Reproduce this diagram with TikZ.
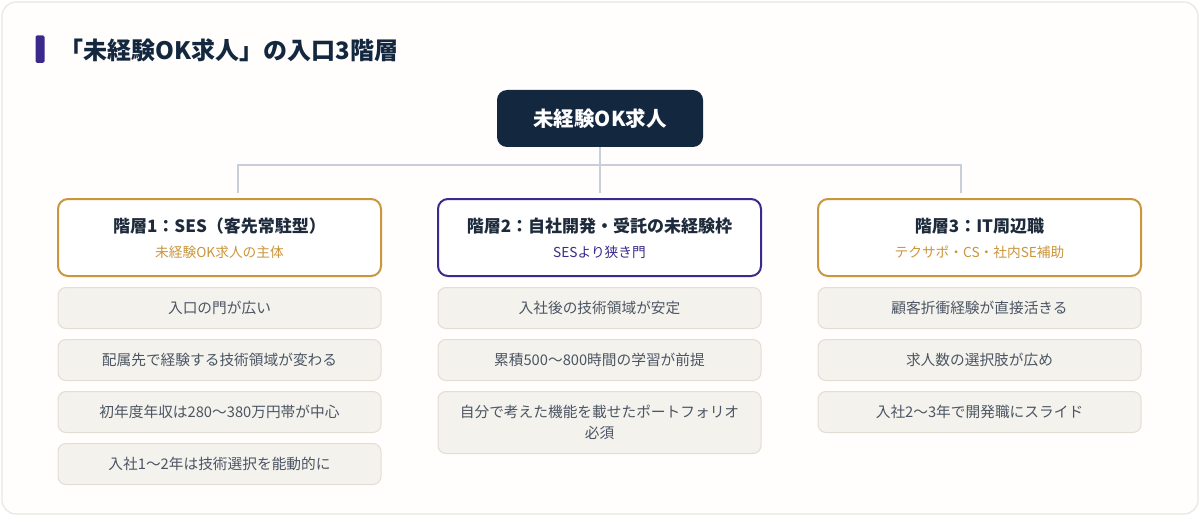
\documentclass[tikz,border=0pt]{standalone}
\usepackage{fontspec}
\setmainfont{Noto Sans CJK JP}
\usetikzlibrary{positioning}
\definecolor{navy}{HTML}{13273F}
\definecolor{ink}{HTML}{1E2B3C}
\definecolor{gold}{HTML}{C9963C}
\definecolor{violet}{HTML}{3A2A8C}
\definecolor{itemfill}{HTML}{F4F2ED}
\definecolor{itemline}{HTML}{E2DED6}
\definecolor{itemtext}{HTML}{4B5563}
\definecolor{wirecol}{HTML}{C9CFD8}
\definecolor{cardline}{HTML}{E9E6DF}
\definecolor{cardfill}{HTML}{FFFEFC}
\tikzset{
	tierbox/.style={draw=#1,line width=2pt,rounded corners=10pt,fill=white,minimum width=323pt,minimum height=77pt},
	tiertitle/.style={text=ink,font=\fontsize{17}{20}\selectfont\bfseries},
	tiersub/.style={text=#1,font=\fontsize{13.7}{16}\selectfont},
	itembox/.style={draw=itemline,line width=1pt,fill=itemfill,rounded corners=8pt,minimum width=323pt,minimum height=41pt,text=itemtext,align=center,font=\fontsize{14.7}{21}\selectfont},
	wire/.style={draw=wirecol,line width=2pt}
}
\begin{document}
\begin{tikzpicture}[x=1pt,y=-1pt]
		\useasboundingbox (0,0) rectangle (1200,516);
		\draw[cardline,fill=cardfill,line width=1.2pt,rounded corners=14pt] (2,2) rectangle (1198,514);
		\fill[violet,rounded corners=1.5pt] (35.5,35.5) rectangle (44.5,63);
		\node[anchor=west,text=navy,font=\fontsize{24}{28}\selectfont\bfseries] (head) at (56,50) {「未経験OK求人」の入口3階層};
		% root
		\node[fill=navy,rounded corners=10pt,minimum width=206pt,minimum height=57pt,text=white,font=\fontsize{20.5}{24}\selectfont\bfseries] (root) at (600,118.5) {未経験OK求人};
		% tiers
		\node[tierbox=gold] (t1) at (219.5,237.5) {};
		\node[tierbox=violet] (t2) at (599.5,237.5) {};
		\node[tierbox=gold] (t3) at (979.5,237.5) {};
		\node[tiertitle] (t1head) at (219.5,226) {階層1：SES（客先常駐型）};
		\node[tiersub=gold] (t1sub) at (219.5,252) {未経験OK求人の主体};
		\node[tiertitle] (t2head) at (599.5,226) {階層2：自社開発・受託の未経験枠};
		\node[tiersub=violet] (t2sub) at (599.5,252) {SESより狭き門};
		\node[tiertitle] (t3head) at (979.5,226) {階層3：IT周辺職};
		\node[tiersub=gold] (t3sub) at (979.5,252) {テクサポ・CS・社内SE補助};
		% wires
		\coordinate (hub) at (600,165);
		\coordinate (drop1) at (238,193);
		\coordinate (drop2) at (600,193);
		\coordinate (drop3) at (961,193);
		\draw[wire] (root.south)--(hub)--(drop2);
		\draw[wire] (hub)-|(drop1);
		\draw[wire] (hub)-|(drop3);
		% items
		\node[itembox,below=10pt of t1] (a1) {入口の門が広い};
		\node[itembox,below=10pt of a1] (a2) {配属先で経験する技術領域が変わる};
		\node[itembox,below=10pt of a2] (a3) {初年度年収は280〜380万円帯が中心};
		\node[itembox,below=10pt of a3] (a4) {入社1〜2年は技術選択を能動的に};
		\node[itembox,below=10pt of t2] (b1) {入社後の技術領域が安定};
		\node[itembox,below=10pt of b1] (b2) {累積500〜800時間の学習が前提};
		\node[itembox,below=10pt of b2,minimum height=62pt] (b3) {自分で考えた機能を載せたポートフォリオ\\必須};
		\node[itembox,below=10pt of t3] (c1) {顧客折衝経験が直接活きる};
		\node[itembox,below=10pt of c1] (c2) {求人数の選択肢が広め};
		\node[itembox,below=10pt of c2] (c3) {入社2〜3年で開発職にスライド};
\end{tikzpicture}
\end{document}
